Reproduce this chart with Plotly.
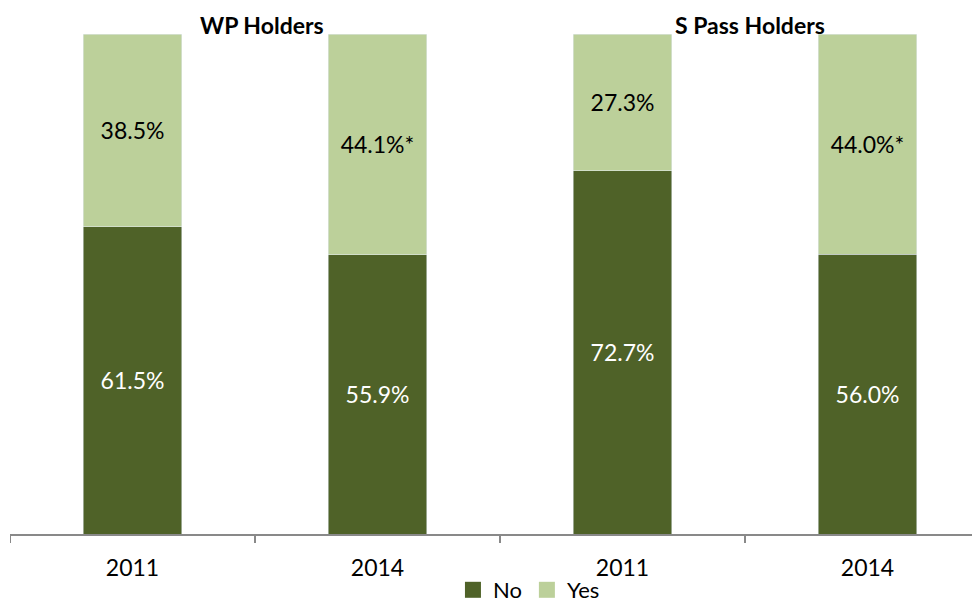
import plotly.graph_objects as go

categories = ["2011", "2014", "2011 ", "2014 "]
tick_labels = ["2011", "2014", "2011", "2014"]
no_values = [61.5, 55.9, 72.7, 56.0]
yes_values = [38.5, 44.1, 27.3, 44.0]
no_text = ["61.5%", "55.9%", "72.7%", "56.0%"]
yes_text = ["38.5%", "44.1%*", "27.3%", "44.0%*"]
group_titles = ["WP Holders", "S Pass Holders"]
series_names = ["No", "Yes"]
series_colors = ["#4F6228", "#BCD09A"]

font_family = "Lato, 'Open Sans', sans-serif"
xs = [0, 1, 2, 3]

fig = go.Figure()
fig.add_trace(go.Bar(
    x=xs, y=no_values, name=series_names[0], marker_color=series_colors[0],
    text=no_text, textposition="inside", insidetextanchor="middle",
    textfont=dict(color="white", size=23, family=font_family),
    width=0.404, hoverinfo="skip", showlegend=False))
fig.add_trace(go.Bar(
    x=xs, y=yes_values, name=series_names[1], marker_color=series_colors[1],
    text=yes_text, textposition="inside", insidetextanchor="middle",
    textfont=dict(color="black", size=23, family=font_family),
    width=0.404, hoverinfo="skip", showlegend=False))

# legend entries with larger square swatches
for nm, col in zip(series_names, series_colors):
    fig.add_trace(go.Scatter(x=[None], y=[None], mode="markers", name=nm,
                             marker=dict(symbol="square", size=16, color=col),
                             showlegend=True, hoverinfo="skip"))

fig.add_annotation(x=0.53, y=1.0, xref="x", yref="paper", text="<b>" + group_titles[0] + "</b>",
                   showarrow=False, yanchor="middle", yshift=9,
                   font=dict(size=23, color="black", family=font_family))
fig.add_annotation(x=2.52, y=1.0, xref="x", yref="paper", text="<b>" + group_titles[1] + "</b>",
                   showarrow=False, yanchor="middle", yshift=9,
                   font=dict(size=23, color="black", family=font_family))

# boundary tick marks
for b in [-0.5, 0.5, 1.5, 2.5]:
    fig.add_shape(type="line", xref="x", yref="paper", x0=b, x1=b, y0=0, y1=-0.018,
                  line=dict(color="#898989", width=2))

fig.update_layout(
    barmode="stack",
    width=972, height=597,
    margin=dict(l=2, r=0, t=26, b=71, autoexpand=False),
    plot_bgcolor="white", paper_bgcolor="white",
    showlegend=True,
    legend=dict(orientation="h", x=0.535, xanchor="center", y=-0.112, yanchor="middle",
                bgcolor="rgba(0,0,0,0)",
                font=dict(size=22, family=font_family, color="black"),
                itemwidth=30, itemsizing="trace", tracegroupgap=0, traceorder="normal"),
    uniformtext=dict(mode=False),
)
fig.update_xaxes(range=[-0.5, 3.5 - 10 / 245], tickmode="array", tickvals=xs, ticktext=tick_labels,
                 showline=True, linecolor="#898989", linewidth=2, ticks="", automargin=False,
                 tickfont=dict(size=23, family=font_family, color="black"),
                 ticklabelstandoff=12, showgrid=False, zeroline=False)
fig.update_yaxes(range=[0, 100], visible=False, showgrid=False, automargin=False)

fig.write_html("out.html")
